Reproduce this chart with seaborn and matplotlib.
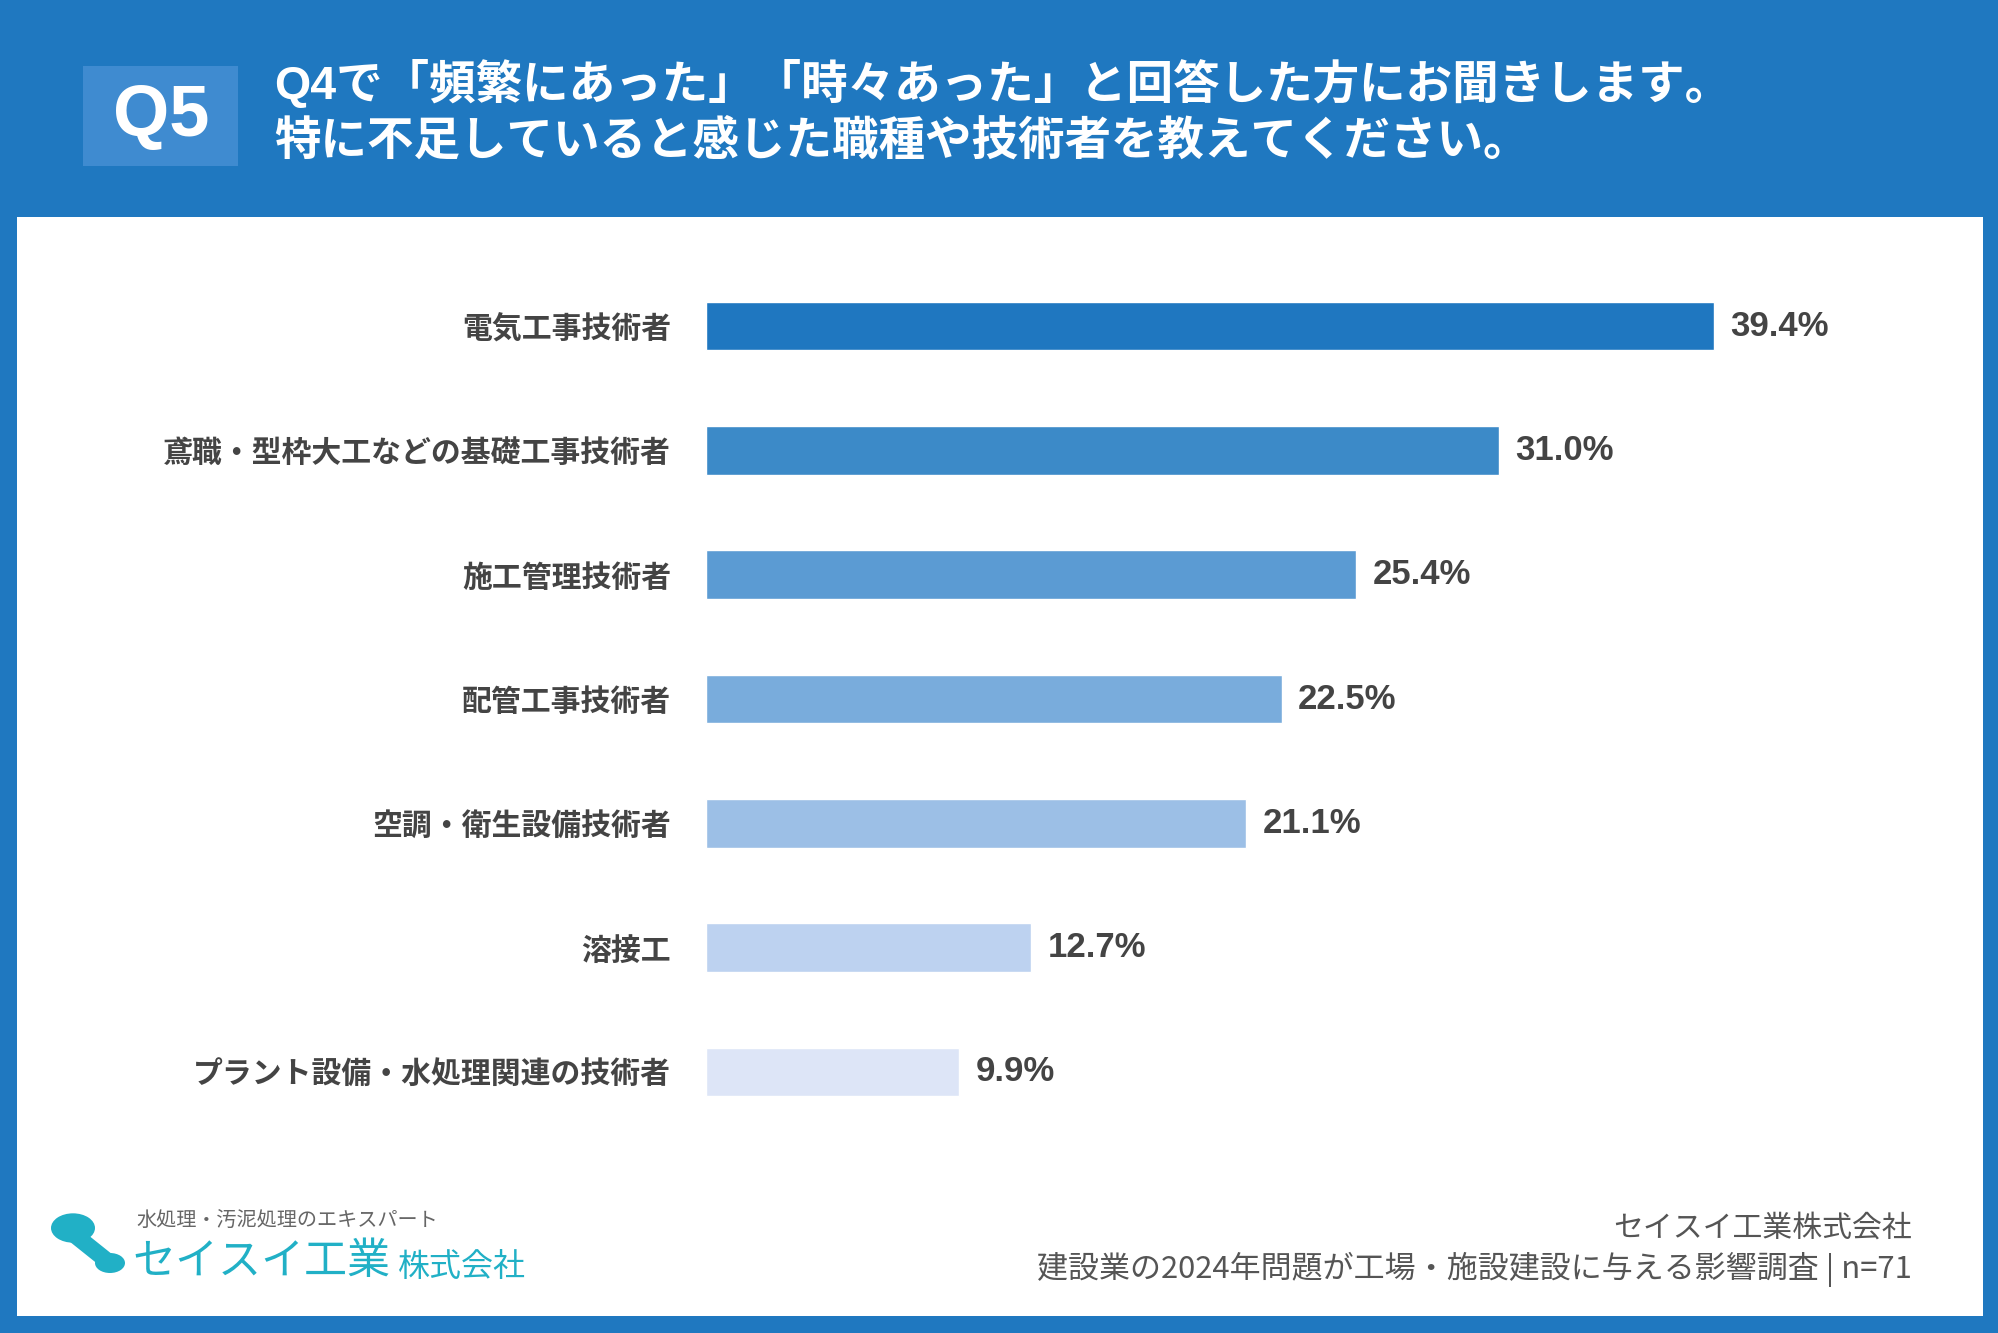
import matplotlib
matplotlib.use("Agg")
import matplotlib.pyplot as plt
import matplotlib.patches as mpatches
import seaborn as sns
import pandas as pd

# data
categories = [
    "電気工事技術者",
    "鳶職・型枠大工などの基礎工事技術者",
    "施工管理技術者",
    "配管工事技術者",
    "空調・衛生設備技術者",
    "溶接工",
    "プラント設備・水処理関連の技術者",
]
values = [39.4, 31.0, 25.4, 22.5, 21.1, 12.7, 9.9]
bar_colors = ["#1f77c0", "#3c8ac8", "#5b9bd3", "#79acdc", "#9cbfe6", "#bdd2f0", "#dde5f7"]

title_lines = [
    "Q4で「頻繁にあった」「時々あった」と回答した方にお聞きします。",
    "特に不足していると感じた職種や技術者を教えてください。",
]
source_lines = [
    "セイスイ工業株式会社",
    "建設業の2024年問題が工場・施設建設に与える影響調査 | n=71",
]

sns.set_style("white")
plt.rcParams["font.family"] = ["Noto Sans CJK JP", "DejaVu Sans"]
latin = ["Liberation Sans", "Noto Sans CJK JP"]

W, H = 1999, 1333
fig = plt.figure(figsize=(W / 100, H / 100), dpi=100)
fig.patch.set_facecolor("#1f78c0")


def fx(px):
    return px / W


def fy(py):
    return 1 - py / H


# white panel
fig.patches.append(mpatches.Rectangle((fx(17), fy(1316)), fx(1983) - fx(17), fy(217) - fy(1316),
                                      transform=fig.transFigure, facecolor="white", edgecolor="none", zorder=-2))
# Q5 box
fig.patches.append(mpatches.Rectangle((fx(83), fy(166)), fx(238) - fx(83), fy(66) - fy(166),
                                      transform=fig.transFigure, facecolor="#3f8bd0", edgecolor="none", zorder=-1))
fig.text(fx(161), fy(117), "Q5", color="white", fontsize=52, fontweight="bold", ha="center", va="center",
         family=latin)
fig.text(fx(274), fy(84), title_lines[0], color="white", fontsize=33.5, fontweight="bold", ha="left", va="center",
         family=latin)
fig.text(fx(274), fy(141), title_lines[1], color="white", fontsize=33.5, fontweight="bold", ha="left", va="center")

# bar chart
ax = fig.add_axes([fx(706), fy(1134), fx(706 + 50 * 25.58) - fx(706), fy(264) - fy(1134)])
ax.set_facecolor("none")
df = pd.DataFrame({"cat": categories, "val": values})
sns.barplot(data=df, x="val", y="cat", hue="cat", palette=bar_colors, legend=False,
            width=0.39, orient="h", ax=ax, saturation=1)
ax.set_xlim(0, 50)
ax.set_ylim(6.5, -0.5)
ax.set_xlabel("")
ax.set_ylabel("")
ax.set_xticks([])
sns.despine(ax=ax, left=True, bottom=True)
ax.tick_params(axis="y", length=0, pad=25, labelsize=21.5, labelcolor="#444444")
for t in ax.get_yticklabels():
    t.set_fontweight("bold")
for i, v in enumerate(values):
    ax.annotate(f"{v:.1f}%", (v, i), xytext=(12, 0), textcoords="offset points",
                ha="left", va="center", fontsize=25, fontweight="bold", color="#444444", family=latin)

# source
fig.text(fx(1912), fy(1228), source_lines[0], color="#555555", fontsize=21.5, ha="right", va="center")
fig.text(fx(1912), fy(1269), source_lines[1], color="#555555", fontsize=22.3, ha="right", va="center")

# logo
teal = "#21b0c6"
fig.patches.append(mpatches.Circle((fx(73), fy(1228)), 22 / W, transform=fig.transFigure,
                                   facecolor=teal, edgecolor="none"))
fig.lines.append(plt.Line2D([fx(76), fx(106)], [fy(1236), fy(1260)], transform=fig.transFigure,
                            color=teal, linewidth=12, solid_capstyle="round"))
fig.patches.append(mpatches.Circle((fx(110), fy(1263)), 15 / W, transform=fig.transFigure,
                                   facecolor=teal, edgecolor="none"))
fig.text(fx(136), fy(1221), "水処理・汚泥処理のエキスパート", color="#666666", fontsize=14.5, ha="left", va="center")
fig.text(fx(132), fy(1262), "セイスイ工業", color=teal, fontsize=31, ha="left", va="center")
fig.text(fx(398), fy(1267), "株式会社", color=teal, fontsize=23, ha="left", va="center")

fig.savefig("out.png", dpi=100, facecolor=fig.get_facecolor())
